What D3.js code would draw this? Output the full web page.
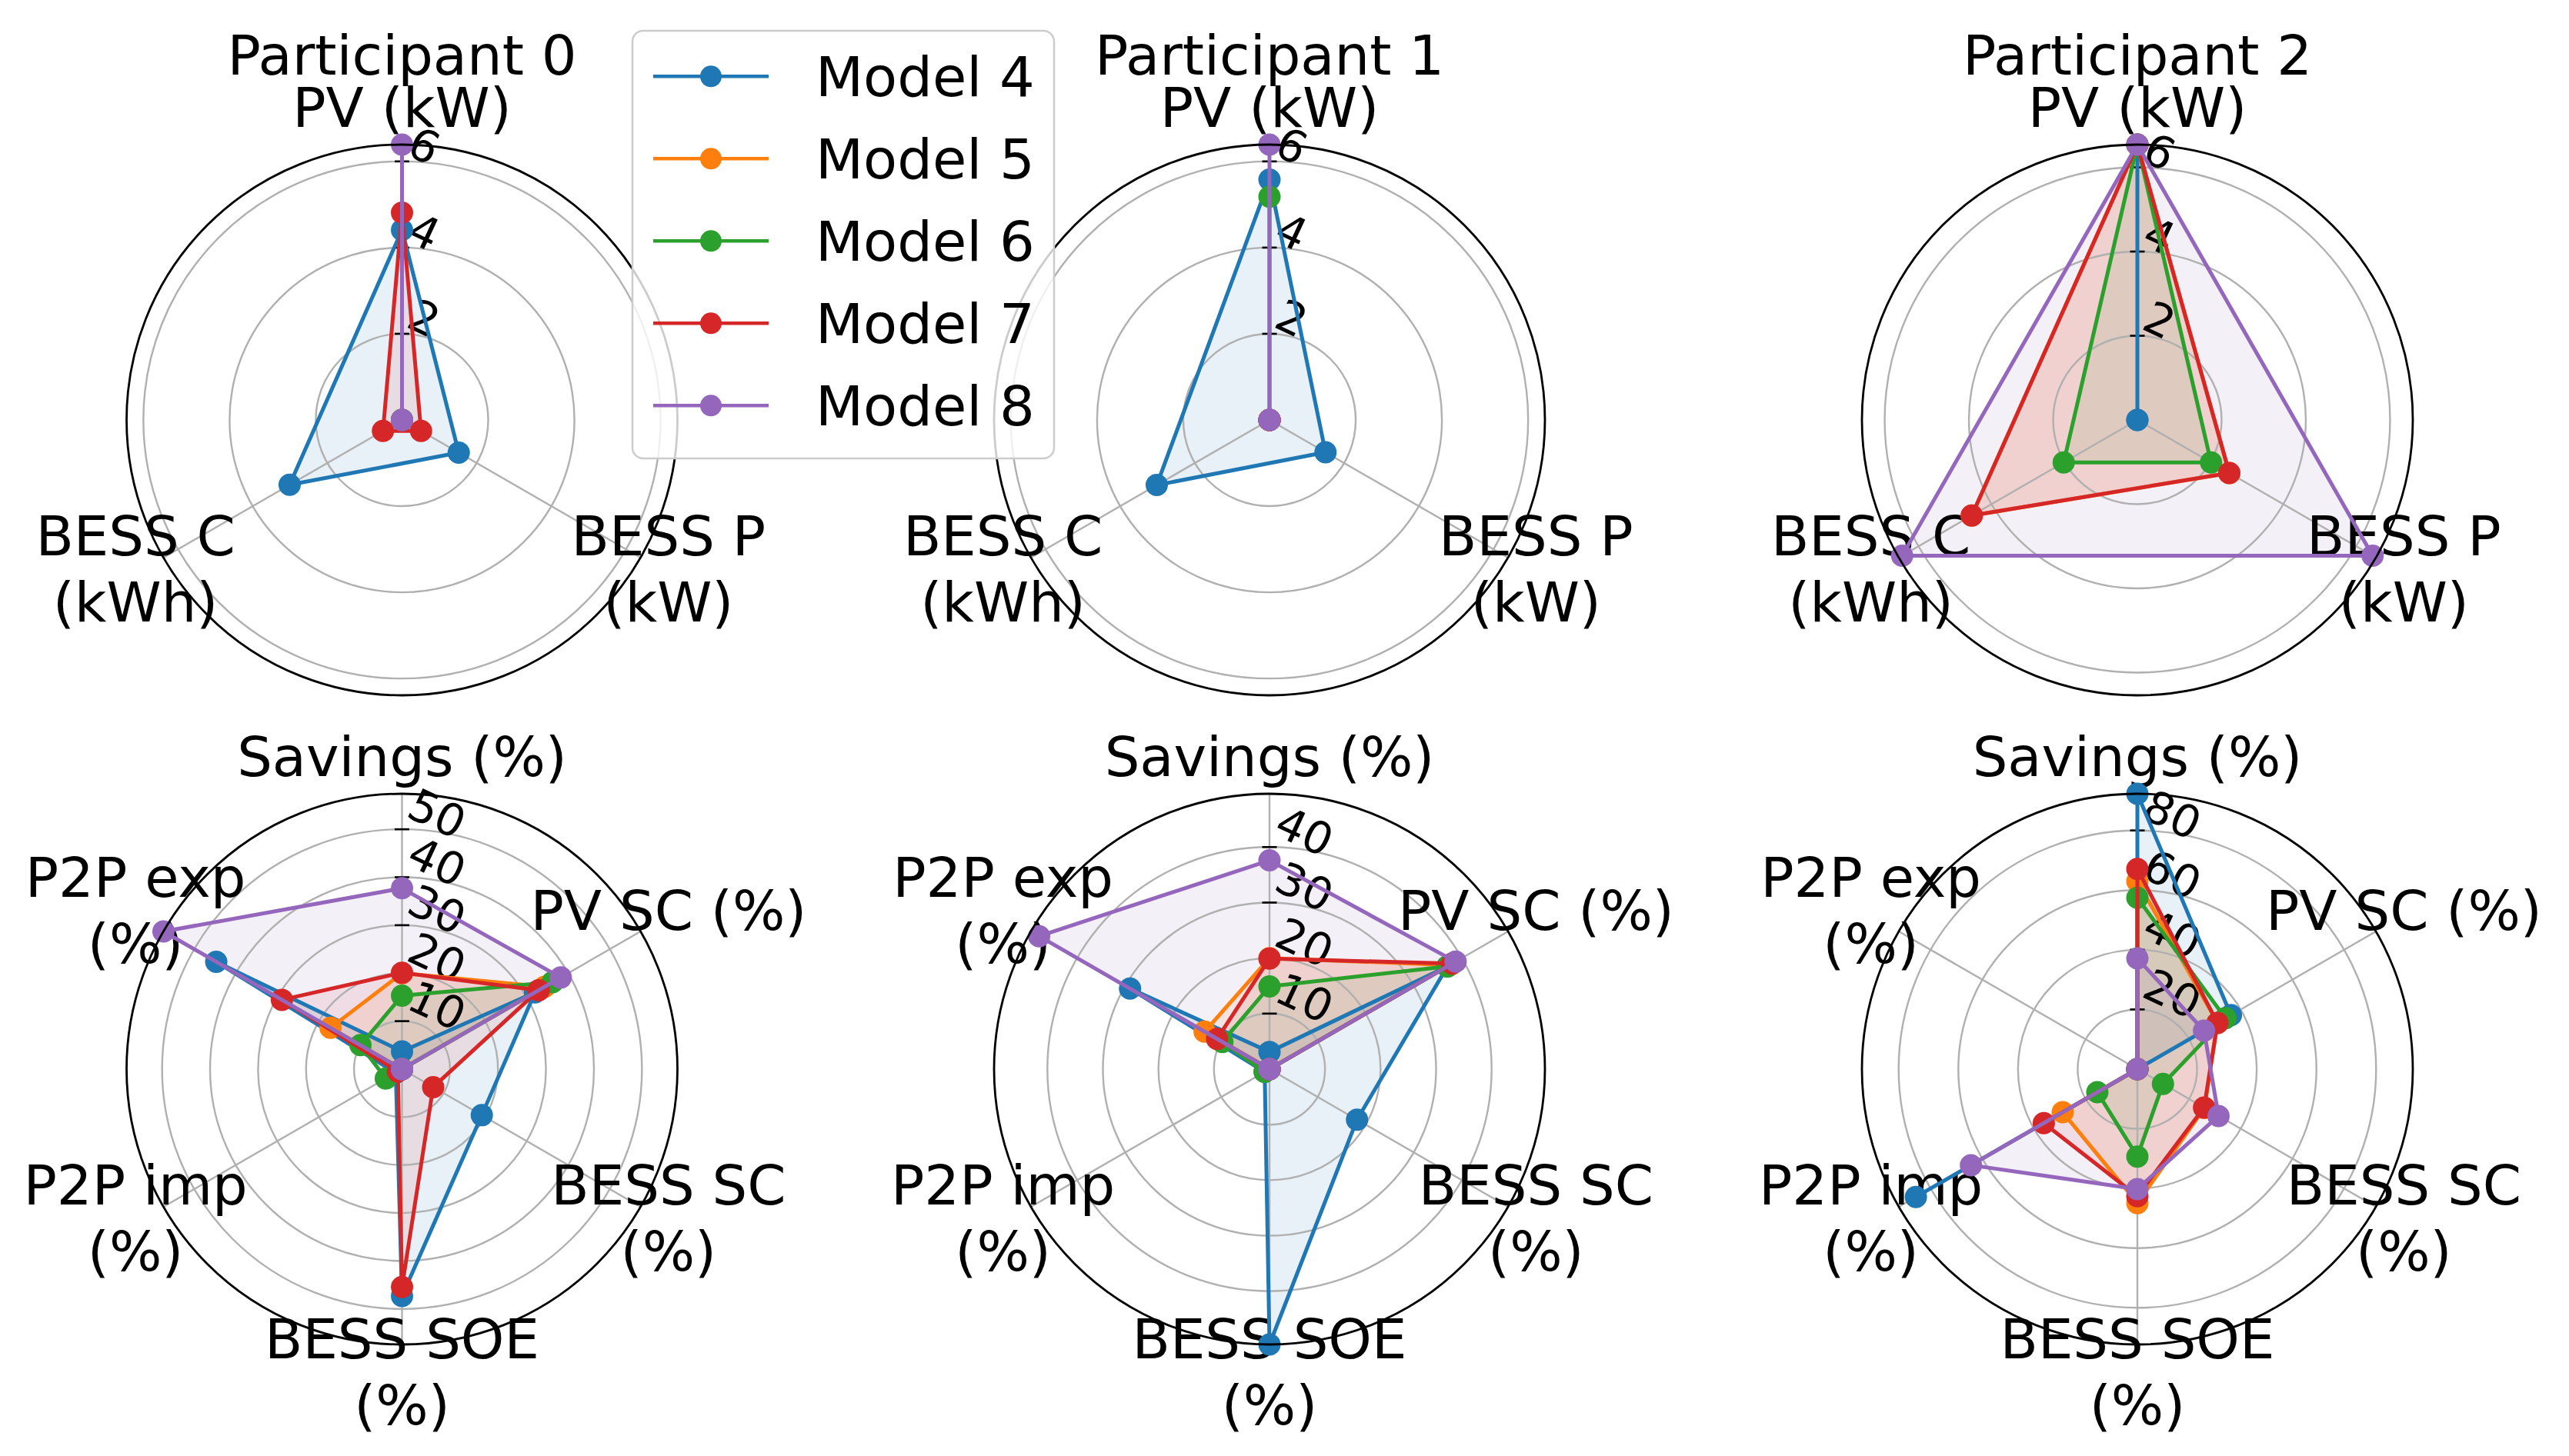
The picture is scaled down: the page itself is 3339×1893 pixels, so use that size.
<!DOCTYPE html>
<html><head><meta charset="utf-8">
<script src="https://cdn.jsdelivr.net/npm/d3@7"></script>
<style>html,body{margin:0;padding:0;background:#fff;} svg{display:block;font-family:"DejaVu Sans";}</style>
</head><body>
<svg id="chart" width="3339" height="1893"></svg>
<script>
// ---------------- DATA ----------------
const models = ["Model 4", "Model 5", "Model 6", "Model 7", "Model 8"];
const colors = ["#1f77b4", "#ff7f0e", "#2ca02c", "#d62728", "#9467bd"];
const participants = ["Participant 0", "Participant 1", "Participant 2"];
const designAxes = [["PV (kW)"], ["BESS P", "(kW)"], ["BESS C", "(kWh)"]];
const perfAxes = [["Savings (%)"], ["PV SC (%)"], ["BESS SC", "(%)"], ["BESS SOE", "(%)"], ["P2P imp", "(%)"], ["P2P exp", "(%)"]];

// design values [PV, BESS P, BESS C] per model (Model 4..8)
const design0 = [[4.41, 1.52, 3.01], [0, 0, 0], [0, 0, 0], [4.81, 0.51, 0.51], [6.39, 0, 0]];
const design1 = [[5.58, 1.50, 3.02], [0, 0, 0], [5.18, 0, 0], [0, 0, 0], [6.39, 0, 0]];
const design2 = [[6.54, 0, 0], [6.54, 2.52, 4.54], [6.54, 2.02, 2.02], [6.54, 2.52, 4.54], [6.54, 6.45, 6.45]];
const designTicks = [[2, 4, 6], [2, 4, 6], [2, 4, 6]];

// performance values [Savings, PV SC, BESS SC, BESS SOE, P2P imp, P2P exp]
const perf0 = [[3.7, 32, 19.2, 47.3, 1.5, 44.7], [20, 34.3, 0, 0, 0, 17.2], [15.3, 36.2, 0, 0, 3.9, 10], [20.1, 32.9, 7.5, 45.4, 1, 28.9], [37.7, 38.2, 0, 0, 0, 57.4]];
const perf1 = [[3.1, 37, 18.2, 49.6, 1, 29], [20, 37.5, 0, 0, 0, 13.5], [14.9, 37, 0, 0, 1, 9.8], [19.9, 38, 0, 0, 0, 10.9], [37.6, 38.7, 0, 0, 0, 47.9]];
const perf2 = [[92.3, 36.2, 0, 0, 85.7, 0], [63, 31, 26, 44.9, 28.9, 0], [57.4, 34.1, 9.9, 29.3, 15.5, 0], [67.1, 31, 25.8, 42.6, 36.2, 0], [37.1, 25.8, 31.4, 40.2, 64.4, 0]];
const perfTicks = [[10, 20, 30, 40, 50], [10, 20, 30, 40], [20, 40, 60, 80]];

// ---------------- LAYOUT ----------------
const svg = d3.select("#chart");
const colX = [522.5, 1650, 2778];
const rowY = [546, 1390];
const R = 358;
const labelR = 400;
const FS = 72, TFS = 58, ROT = 25;

function radar(cx, cy, axesLabels, values, ticks) {
  const n = axesLabels.length;
  const rmax = d3.max(values.flat());
  const r = d3.scaleLinear().domain([0, rmax]).range([0, R]);
  const ang = d3.scaleLinear().domain([0, n]).range([0, 2 * Math.PI]);
  const g = svg.append("g").attr("transform", `translate(${cx},${cy})`);

  // fills
  const line = d3.lineRadial().angle((d, i) => ang(i)).radius(d => r(d)).curve(d3.curveLinearClosed);
  values.forEach((vals, m) => {
    g.append("path").attr("d", line(vals)).attr("fill", colors[m]).attr("fill-opacity", 0.1).attr("stroke", "none");
  });

  // grid circles
  ticks.forEach(t => {
    g.append("circle").attr("r", r(t)).attr("fill", "none").attr("stroke", "#b0b0b0").attr("stroke-width", 2.4);
  });
  // spokes
  d3.range(n).forEach(i => {
    const [x, y] = d3.pointRadial(ang(i), R);
    g.append("line").attr("x1", 0).attr("y1", 0).attr("x2", x).attr("y2", y).attr("stroke", "#b0b0b0").attr("stroke-width", 2.4);
  });
  // radial tick marks + labels
  ticks.forEach(t => {
    const y = -r(t);
    g.append("line").attr("x1", -9.5).attr("x2", 9.5).attr("y1", y).attr("y2", y).attr("stroke", "#000").attr("stroke-width", 2.6);
    const s = String(t);
    const w = s.length * 0.636 * TFS * Math.cos(ROT * Math.PI / 180);
    const lx = 12 + w / 2, ly = y - 20;
    g.append("text").attr("transform", `translate(${lx},${ly}) rotate(${ROT})`)
      .attr("text-anchor", "middle").attr("dominant-baseline", "central")
      .attr("font-size", TFS).attr("fill", "#000").text(s);
  });
  // axis labels
  axesLabels.forEach((lines, i) => {
    const [x, y] = d3.pointRadial(ang(i), labelR);
    const lh = 1.2 * FS;
    const blockH = FS + (lines.length - 1) * lh;
    const top = y - blockH / 2;
    const t = g.append("text").attr("text-anchor", "middle").attr("font-size", FS).attr("fill", "#000");
    lines.forEach((ln, k) => {
      t.append("tspan").attr("x", x).attr("y", top + 0.76 * FS + k * lh).text(ln);
    });
  });
  // lines + markers
  values.forEach((vals, m) => {
    g.append("path").attr("d", line(vals)).attr("fill", "none").attr("stroke", colors[m]).attr("stroke-width", 5).attr("stroke-linejoin", "round");
    vals.forEach((v, i) => {
      const [x, y] = d3.pointRadial(ang(i), r(v));
      g.append("circle").attr("cx", x).attr("cy", y).attr("r", 14.5).attr("fill", colors[m]);
    });
  });
  // spine
  g.append("circle").attr("r", R).attr("fill", "none").attr("stroke", "#000").attr("stroke-width", 2.8);
}

const designData = [design0, design1, design2];
const perfData = [perf0, perf1, perf2];
for (let c = 0; c < 3; c++) {
  radar(colX[c], rowY[0], designAxes, designData[c], designTicks[c]);
  radar(colX[c], rowY[1], perfAxes, perfData[c], perfTicks[c]);
  svg.append("text").attr("x", colX[c]).attr("y", 97).attr("text-anchor", "middle")
    .attr("font-size", FS).attr("fill", "#000").text(participants[c]);
}

// legend
const lg = svg.append("g");
lg.append("rect").attr("x", 822).attr("y", 40).attr("width", 548).attr("height", 556).attr("rx", 14)
  .attr("fill", "#fff").attr("fill-opacity", 0.8).attr("stroke", "#cccccc").attr("stroke-width", 2.5);
models.forEach((name, i) => {
  const y = 99.3 + 107 * i;
  lg.append("line").attr("x1", 849).attr("x2", 999).attr("y1", y).attr("y2", y).attr("stroke", colors[i]).attr("stroke-width", 4.5);
  lg.append("circle").attr("cx", 924).attr("cy", y).attr("r", 14).attr("fill", colors[i]);
  lg.append("text").attr("x", 1060).attr("y", y + 26).attr("font-size", FS).attr("fill", "#000").text(name);
});
</script>
</body></html>
